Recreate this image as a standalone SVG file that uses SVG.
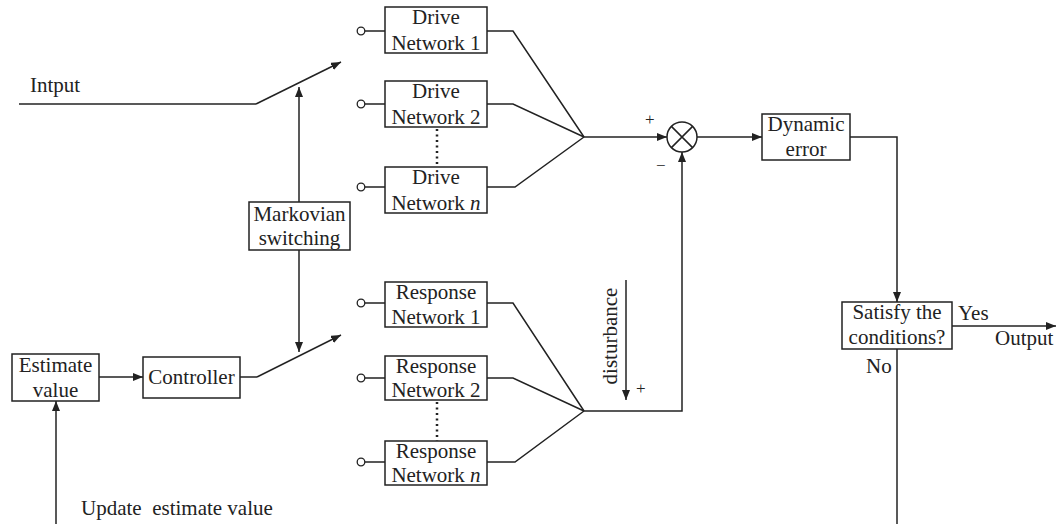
<svg xmlns="http://www.w3.org/2000/svg" width="1056" height="524" viewBox="0 0 1056 524">
  <defs>
    <marker id="arrow" viewBox="0 0 10 8" refX="10" refY="4" markerWidth="10" markerHeight="8" markerUnits="userSpaceOnUse" orient="auto">
      <path d="M0,0 L10,4 L0,8 Z" fill="#222"/>
    </marker>
    <style>
      .box { fill: #fff; stroke: #222; stroke-width: 1.5; }
      .ln { fill: none; stroke: #222; stroke-width: 1.5; }
      .arr { fill: none; stroke: #222; stroke-width: 1.5; marker-end: url(#arrow); }
      .dot { fill: none; stroke: #222; stroke-width: 2.5; stroke-dasharray: 2 3.5; }
      .port { fill: #fff; stroke: #222; stroke-width: 1.3; }
      text { font-family: "Liberation Serif", "Times New Roman", serif; font-size: 21px; fill: #222; white-space: pre; }
      .c { text-anchor: middle; }
      .sm { font-size: 17px; }
    </style>
  </defs>

  <rect width="1056" height="524" fill="#fff"/>

  <!-- connectors -->
  <g id="connectors">
    <!-- input switch -->
    <path class="ln" d="M19,104 L256,104"/>
    <path class="arr" d="M256,104 L341,62"/>
    <!-- Markovian switching actuators -->
    <path class="arr" d="M299,202 L299,87"/>
    <path class="arr" d="M299,250 L299,352"/>
    <!-- controller switch -->
    <path class="arr" d="M99,377 L143,377"/>
    <path class="ln" d="M240,377 L257,377"/>
    <path class="arr" d="M257,377 L341,335"/>
    <!-- feedback update -->
    <path class="arr" d="M56,524 L56,401"/>

    <!-- drive network ports -->
    <path class="ln" d="M365,31 H385 M365,104 H385 M365,187 H385"/>
    <!-- response network ports -->
    <path class="ln" d="M365,303 H385 M365,378 H385 M365,462 H385"/>

    <!-- drive outputs merging -->
    <path class="ln" d="M487,31 H513 L584,137"/>
    <path class="ln" d="M487,104 H513 L584,137"/>
    <path class="ln" d="M487,187 H515 L584,137"/>
    <path class="arr" d="M584,137 L667,137"/>

    <!-- response outputs merging -->
    <path class="ln" d="M487,303 H513 L584,411"/>
    <path class="ln" d="M487,378 H513 L584,411"/>
    <path class="ln" d="M487,462 H515 L584,411"/>
    <path class="arr" d="M584,411 H682 V152"/>

    <!-- dotted continuation between networks -->
    <path class="dot" d="M437,129 V167"/>
    <path class="dot" d="M437,402 V441"/>

    <!-- disturbance -->
    <path class="arr" d="M626,280 V400"/>

    <!-- error path -->
    <path class="arr" d="M697,137 L762,137"/>
    <path class="arr" d="M850,137 H897 V302"/>
    <path class="arr" d="M952,326 H1056"/>
    <path class="ln" d="M897,349 V524"/>
  </g>

  <!-- ports -->
  <g id="ports">
    <circle class="port" cx="361" cy="31" r="3.8"/>
    <circle class="port" cx="361" cy="104" r="3.8"/>
    <circle class="port" cx="361" cy="187" r="3.8"/>
    <circle class="port" cx="361" cy="303" r="3.8"/>
    <circle class="port" cx="361" cy="378" r="3.8"/>
    <circle class="port" cx="361" cy="462" r="3.8"/>
  </g>

  <g id="drive1">
    <rect class="box" x="385" y="7" width="102" height="46"/>
    <text class="c" x="436" y="24">Drive</text>
    <text class="c" x="436" y="50">Network 1</text>
  </g>
  <g id="drive2">
    <rect class="box" x="385" y="81" width="102" height="46"/>
    <text class="c" x="436" y="98">Drive</text>
    <text class="c" x="436" y="124">Network 2</text>
  </g>
  <g id="driven">
    <rect class="box" x="385" y="167" width="102" height="46"/>
    <text class="c" x="436" y="184">Drive</text>
    <text class="c" x="436" y="210">Network <tspan font-style="italic">n</tspan></text>
  </g>

  <g id="resp1">
    <rect class="box" x="385" y="282" width="102" height="45"/>
    <text class="c" x="436" y="299">Response</text>
    <text class="c" x="436" y="324">Network 1</text>
  </g>
  <g id="resp2">
    <rect class="box" x="385" y="356" width="102" height="44"/>
    <text class="c" x="436" y="373">Response</text>
    <text class="c" x="436" y="397">Network 2</text>
  </g>
  <g id="respn">
    <rect class="box" x="385" y="441" width="102" height="44"/>
    <text class="c" x="436" y="458">Response</text>
    <text class="c" x="436" y="482">Network <tspan font-style="italic">n</tspan></text>
  </g>

  <g id="markov">
    <rect class="box" x="249" y="202" width="101" height="48"/>
    <text class="c" x="299.5" y="221">Markovian</text>
    <text class="c" x="299.5" y="245">switching</text>
  </g>

  <g id="controller">
    <rect class="box" x="143" y="357" width="97" height="41"/>
    <text class="c" x="191.5" y="384">Controller</text>
  </g>

  <g id="estimate">
    <rect class="box" x="12" y="354" width="87" height="47"/>
    <text class="c" x="55.5" y="372">Estimate</text>
    <text class="c" x="55.5" y="397">value</text>
  </g>

  <g id="summer">
    <circle cx="682" cy="137" r="15" fill="#fff" stroke="#222" stroke-width="1.5"/>
    <path class="ln" d="M671.4,126.4 L692.6,147.6 M692.6,126.4 L671.4,147.6"/>
    <text class="sm" x="645" y="125">+</text>
    <text class="sm" x="656" y="171">−</text>
  </g>

  <g id="dynamic-error">
    <rect class="box" x="762" y="114" width="88" height="46"/>
    <text class="c" x="806" y="131">Dynamic</text>
    <text class="c" x="806" y="156">error</text>
  </g>

  <g id="satisfy">
    <rect class="box" x="842" y="302" width="110" height="47"/>
    <text class="c" x="897" y="319">Satisfy the</text>
    <text class="c" x="897" y="344">conditions?</text>
  </g>

  <g id="labels">
    <text x="30" y="92">Intput</text>
    <text x="81" y="515">Update  estimate value</text>
    <text x="617" y="336" class="c" transform="rotate(-90 617 336)">disturbance</text>
    <text class="sm" x="636" y="394">+</text>
    <text x="958" y="320">Yes</text>
    <text x="995" y="345">Output</text>
    <text x="866" y="373">No</text>
  </g>
</svg>
